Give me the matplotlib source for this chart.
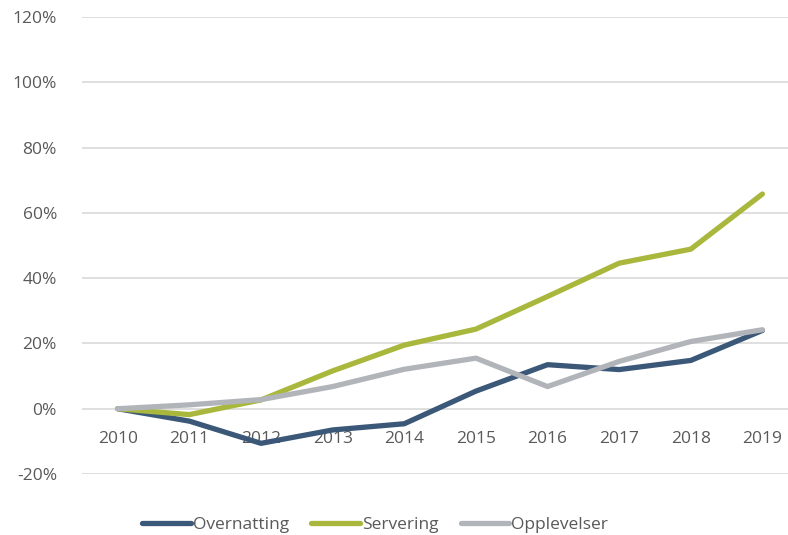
import numpy as np
import matplotlib.pyplot as plt

years = ['2010', '2011', '2012', '2013', '2014', '2015', '2016', '2017', '2018', '2019']
overnatting = [0.0, -3.8, -10.6, -6.5, -4.6, 5.4, 13.5, 12.0, 14.8, 24.0]
servering = [0.0, -1.8, 2.7, 11.6, 19.5, 24.4, 34.4, 44.6, 48.9, 65.8]
opplevelser = [0.0, 1.2, 2.8, 6.8, 12.1, 15.5, 6.8, 14.5, 20.6, 24.2]

series = [
    ('Overnatting', overnatting, '#3b5878'),
    ('Servering', servering, '#a9b83d'),
    ('Opplevelser', opplevelser, '#b1b5ba'),
]

plt.rcParams['font.family'] = ['Open Sans', 'DejaVu Sans']

fig = plt.figure(figsize=(7.88, 5.35), dpi=100)
ax = fig.add_axes([0.104, 0.114, 0.909, 0.854])

x = np.arange(len(years))
for name, vals, col in series:
    ax.plot(x, vals, color=col, lw=3.8, label=name,
            solid_capstyle='round', solid_joinstyle='round')

ax.set_xlim(-0.5, len(years) - 0.5)
ax.set_ylim(-20, 120)
ax.set_yticks(np.arange(-20, 121, 20))
ax.set_yticklabels([f'{v}%' for v in range(-20, 121, 20)])
ax.set_xticks(x)
ax.set_xticklabels(years)
ax.grid(axis='y', color='#d9d9d9', lw=1.2)
ax.set_axisbelow(True)
for s in ax.spines.values():
    s.set_visible(False)
ax.spines['bottom'].set_position(('data', 0))
ax.tick_params(length=0, labelsize=12.5, colors='#595959')
ax.tick_params(axis='x', pad=16)
ax.tick_params(axis='y', pad=18)

fig.legend(loc='lower center', bbox_to_anchor=(0.476, -0.025), ncol=3,
           frameon=False, fontsize=12.5, labelcolor='#595959',
           handlelength=2.8, handletextpad=0.1, columnspacing=1.3)

fig.savefig('out.png', dpi=100)
